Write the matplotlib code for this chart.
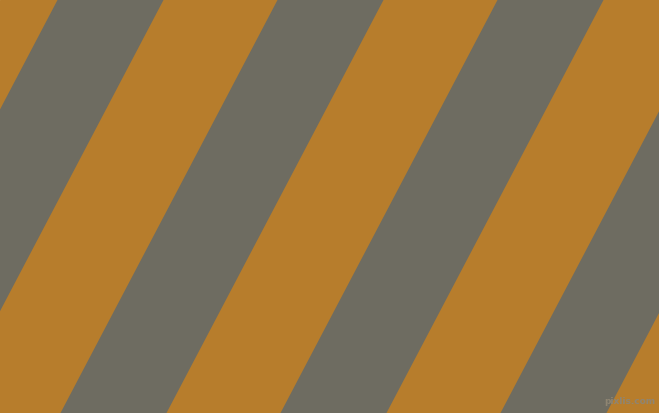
import matplotlib
matplotlib.use("Agg")
import matplotlib.pyplot as plt

# canvas size in pixels
width_px = 659
height_px = 413

# colours
orange = "#B77D2C"
grey = "#6E6C61"

# left edges of the grey stripes along the top edge (px)
grey_top_x = [-162.5, 57.5, 277.5, 497.5, 717.5]
grey_width = 106          # horizontal width of each grey stripe
shift = 217               # how far a stripe edge moves left from top to bottom

fig = plt.figure(figsize=(width_px / 100, height_px / 100), dpi=100)
ax = fig.add_axes([0, 0, 1, 1])
ax.set_xlim(0, width_px)
ax.set_ylim(height_px, 0)
ax.axis("off")
ax.add_patch(plt.Rectangle((0, 0), width_px, height_px, color=orange, zorder=0))

for x0 in grey_top_x:
    xs = [x0, x0 + grey_width, x0 + grey_width - shift, x0 - shift]
    ys = [0, 0, height_px, height_px]
    ax.fill(xs, ys, color=grey, linewidth=0, zorder=1)

# small watermark in the bottom right corner
ax.text(655, 401, "pixlis.com", ha="right", va="center", fontsize=6.5,
        fontweight="bold", color="#8F8572", zorder=2)

fig.savefig("out.png", dpi=100)
